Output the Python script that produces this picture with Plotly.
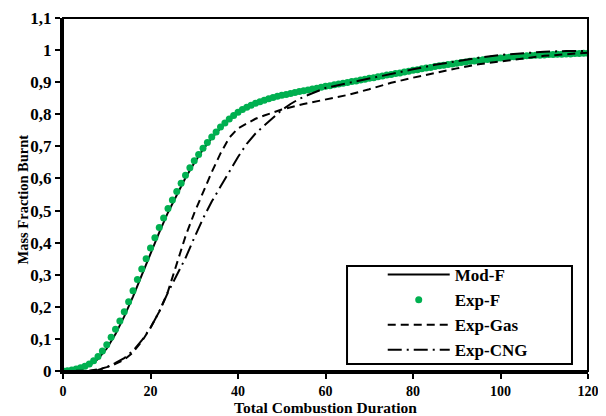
import plotly.graph_objects as go

# ---------------- data ----------------
exp_f_x = list(range(0, 121))
exp_f_y = [0.000, 0.001, 0.003, 0.006, 0.010, 0.015, 0.022, 0.032, 0.045, 0.062,
           0.082, 0.105, 0.130, 0.156, 0.185, 0.216, 0.250, 0.285, 0.318, 0.350,
           0.383, 0.415, 0.447, 0.477, 0.506, 0.533, 0.559, 0.585, 0.610, 0.633,
           0.655, 0.675, 0.694, 0.712, 0.729, 0.745, 0.760, 0.773, 0.785, 0.796,
           0.806, 0.815, 0.822, 0.828, 0.834, 0.839, 0.844, 0.848, 0.852, 0.856,
           0.859, 0.862, 0.865, 0.868, 0.871, 0.873, 0.876, 0.879, 0.881, 0.884,
           0.887, 0.889, 0.892, 0.894, 0.897, 0.899, 0.902, 0.904, 0.907, 0.909,
           0.912, 0.914, 0.917, 0.919, 0.922, 0.924, 0.927, 0.929, 0.932, 0.934,
           0.937, 0.939, 0.942, 0.944, 0.946, 0.949, 0.951, 0.953, 0.955, 0.957,
           0.959, 0.961, 0.963, 0.965, 0.966, 0.968, 0.970, 0.971, 0.973, 0.974,
           0.975, 0.977, 0.978, 0.979, 0.980, 0.981, 0.982, 0.983, 0.984, 0.984,
           0.985, 0.986, 0.986, 0.987, 0.987, 0.988, 0.988, 0.989, 0.989, 0.990,
           0.990]

mod_f_x = [0, 2, 4, 6, 8, 10, 12, 14, 16, 18, 20, 22, 24, 26, 28, 30, 32, 34, 36, 38,
           40, 42, 44, 46, 48, 50, 55, 60, 65, 70, 75, 80, 85, 90, 95, 100, 105, 110, 115, 120]
mod_f_y = [0.000, 0.001, 0.006, 0.017, 0.037, 0.070, 0.115, 0.170, 0.232, 0.300,
           0.367, 0.432, 0.494, 0.550, 0.602, 0.648, 0.690, 0.726, 0.757, 0.783,
           0.804, 0.821, 0.833, 0.843, 0.851, 0.858, 0.873, 0.887, 0.900, 0.913,
           0.925, 0.937, 0.949, 0.959, 0.968, 0.975, 0.981, 0.985, 0.988, 0.990]

gas_x = [0, 4, 6, 8, 10, 12, 14, 16, 18, 20, 22, 24, 26, 28, 30, 32, 34, 36, 38, 40,
         42, 44, 46, 48, 50, 55, 60, 65, 70, 75, 80, 85, 90, 95, 100, 105, 110, 115, 120]
gas_y = [0.000, 0.000, 0.001, 0.005, 0.012, 0.022, 0.035, 0.058, 0.092, 0.135,
         0.185, 0.248, 0.335, 0.420, 0.492, 0.558, 0.620, 0.678, 0.727, 0.756,
         0.772, 0.786, 0.796, 0.806, 0.815, 0.832, 0.846, 0.860, 0.878, 0.898,
         0.914, 0.929, 0.943, 0.956, 0.965, 0.975, 0.982, 0.987, 0.992]

cng_x = [0, 6, 8, 10, 12, 14, 16, 18, 20, 22, 24, 26, 28, 30, 32, 34, 36, 38, 40, 42,
         44, 46, 48, 50, 52, 54, 56, 58, 60, 65, 70, 75, 80, 85, 90, 95, 100, 105, 110, 115, 120]
cng_y = [0.000, 0.000, 0.003, 0.012, 0.025, 0.040, 0.063, 0.095, 0.135, 0.185,
         0.245, 0.300, 0.352, 0.415, 0.475, 0.528, 0.575, 0.622, 0.667, 0.708,
         0.740, 0.765, 0.790, 0.813, 0.832, 0.848, 0.860, 0.872, 0.882, 0.897,
         0.912, 0.926, 0.940, 0.954, 0.966, 0.976, 0.985, 0.991, 0.995, 0.997, 0.997]

x_ticks = [0, 20, 40, 60, 80, 100, 120]
y_ticks = [0, 0.1, 0.2, 0.3, 0.4, 0.5, 0.6, 0.7, 0.8, 0.9, 1.0, 1.1]
y_tick_labels = ["0", "0,1", "0,2", "0,3", "0,4", "0,5", "0,6", "0,7", "0,8", "0,9", "1", "1,1"]

FONT = "Liberation Serif"
GREEN = "#00B050"
FS = 17

fig = go.Figure()
fig.add_trace(go.Scatter(x=mod_f_x, y=mod_f_y, mode="lines", name="Mod-F",
                         line=dict(color="black", width=2)))
fig.add_trace(go.Scatter(x=exp_f_x, y=exp_f_y, mode="markers", name="Exp-F",
                         marker=dict(color=GREEN, size=7)))
fig.add_trace(go.Scatter(x=gas_x, y=gas_y, mode="lines", name="Exp-Gas",
                         line=dict(color="black", width=2, dash="8px,5px")))
fig.add_trace(go.Scatter(x=cng_x, y=cng_y, mode="lines", name="Exp-CNG",
                         line=dict(color="black", width=2, dash="14px,5px,2px,5px")))

# the page body has an 8px margin, so the figure is sized 598x408
fig.update_layout(
    width=598, height=408,
    margin=dict(l=55, r=18, t=10, b=45),
    paper_bgcolor="white", plot_bgcolor="white",
    font=dict(family=FONT, size=FS, color="black"),
    showlegend=True,
    legend=dict(x=0.609, y=0.323, xanchor="left", yanchor="top",
                bgcolor="rgba(0,0,0,0)", borderwidth=0,
                font=dict(family=FONT, size=FS, color="black", weight="bold"),
                tracegroupgap=0, itemwidth=62),
    shapes=[dict(type="rect", xref="x domain", yref="y domain", x0=0, x1=1, y0=0, y1=1,
                 line=dict(color="black", width=2), layer="above"),
            dict(type="rect", xref="x domain", yref="y domain", x0=0.541, x1=0.9695,
                 y0=0.0198, y1=0.2975, line=dict(color="black", width=2),
                 fillcolor="white", layer="above")],
    annotations=[dict(text="<b>Total Combustion Duration</b>", xref="paper", yref="paper",
                      x=0.5, y=0, xanchor="center", yanchor="top", yshift=-26.5,
                      borderpad=0, showarrow=False,
                      font=dict(family=FONT, size=15.5, color="black")),
                 dict(text="<b>Mass Fraction Burnt</b>", xref="paper", yref="paper",
                      x=0, y=0.5, xanchor="center", yanchor="middle", xshift=-41, yshift=-5,
                      textangle=-90, borderpad=0, showarrow=False,
                      font=dict(family=FONT, size=14.5, color="black"))],
)
fig.update_xaxes(range=[0, 120], tickvals=x_ticks, ticktext=[str(v) for v in x_ticks],
                 automargin=False,
                 showgrid=False, zeroline=False, showline=True, linecolor="black", linewidth=3,
                 ticks="outside", ticklen=5, tickwidth=2, tickcolor="black",
                 tickfont=dict(family=FONT, size=14, weight="bold"))
fig.update_yaxes(range=[0, 1.1], tickvals=y_ticks, ticktext=y_tick_labels,
                 automargin=False,
                 showgrid=False, zeroline=False, showline=True, linecolor="black", linewidth=3,
                 ticks="outside", ticklen=5, tickwidth=2, tickcolor="black",
                 tickfont=dict(family=FONT, size=FS, weight="bold"))

fig.write_html("out.html")
